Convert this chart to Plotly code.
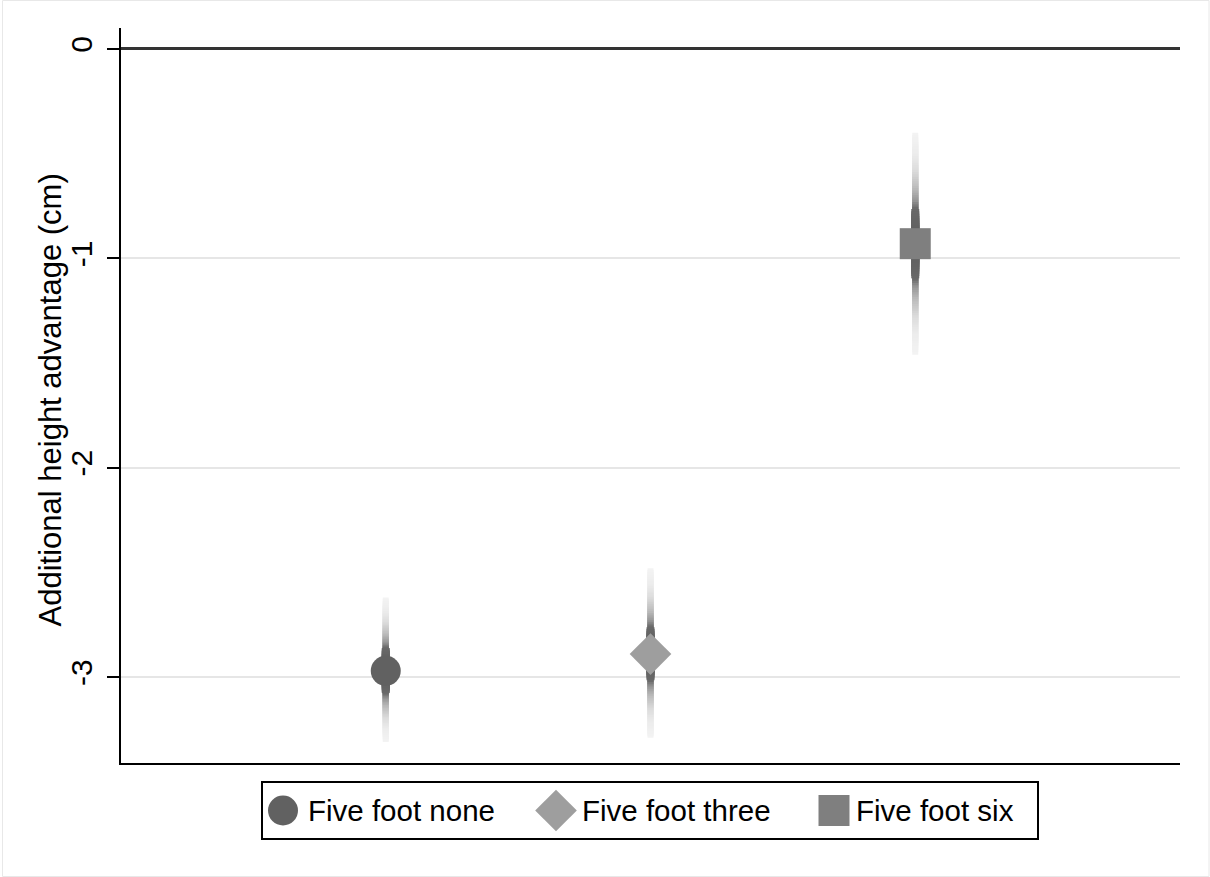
import numpy as np
import plotly.graph_objects as go

# Estimates with outer confidence bounds (cm)
groups = ["Five foot none", "Five foot three", "Five foot six"]
positions = [1, 2, 3]
estimates = [-2.97, -2.89, -0.93]
lower = [-3.31, -3.29, -1.46]
upper = [-2.62, -2.48, -0.40]

symbols = ["circle", "diamond", "square"]
marker_colors = ["#616161", "#9e9e9e", "#7f7f7f"]
marker_sizes = [30, 32, 31]

y_ticks = [0, -1, -2, -3]
y_title = "Additional height advantage (cm)"

W, H = 1210, 877
FONT = "Liberation Sans, Arial, sans-serif"

# plot area in pixels
px_l, px_r, px_t, px_b = 121, 1180, 28, 763
# legend box in pixels
lg_l, lg_r, lg_t, lg_b = 263, 1037, 783, 838

# grey ramp of the smoothed spikes: share of the half-interval -> grey level
ramp_f = [0.0, 0.33, 0.40, 0.51, 0.67, 0.82, 1.0]
ramp_g = [90, 105, 150, 187, 220, 236, 243]

fig = go.Figure()

# Smoothed confidence spikes: nested segments, lighter toward the outer bounds
n_levels = 48
for k in range(n_levels):
    f = 1 - k / n_levels
    shade = int(round(np.interp(f, ramp_f, ramp_g)))
    color = f"rgb({shade},{shade},{shade})"
    width = 6 if f > 0.33 else 8
    xs, ys = [], []
    for x, e, lo, hi in zip(positions, estimates, lower, upper):
        xs += [x, x, None]
        ys += [e - f * (e - lo), e + f * (hi - e), None]
    fig.add_trace(go.Scatter(
        x=xs, y=ys, mode="lines", line=dict(color=color, width=width),
        hoverinfo="skip", showlegend=False, xaxis="x", yaxis="y"))

# Point estimates
for x, e, name, sym, col, sz in zip(positions, estimates, groups, symbols,
                                     marker_colors, marker_sizes):
    fig.add_trace(go.Scatter(
        x=[x], y=[e], mode="markers", name=name,
        marker=dict(symbol=sym, color=col, size=sz, line=dict(width=0)),
        showlegend=False, xaxis="x", yaxis="y"))

# Legend drawn in its own small axes below the plot
leg_marker_x = [283, 556, 834]
leg_text_x = [306, 580, 854]
for mx, tx, name, sym, col, sz in zip(leg_marker_x, leg_text_x, groups, symbols,
                                       marker_colors, marker_sizes):
    fig.add_trace(go.Scatter(
        x=[mx], y=[0.5], mode="markers",
        marker=dict(symbol=sym, color=col, size=sz, line=dict(width=0)),
        showlegend=False, hoverinfo="skip", xaxis="x2", yaxis="y2"))
    fig.add_annotation(
        x=tx, y=0.5, xref="x2", yref="y2", text=name, showarrow=False,
        xanchor="left", yanchor="middle",
        font=dict(family=FONT, size=29.5, color="black"))

# y-axis title
fig.add_annotation(
    x=50.5 / W, y=1 - 400 / H, xref="paper", yref="paper", text=y_title,
    textangle=-90, showarrow=False, xanchor="center", yanchor="middle",
    font=dict(family=FONT, size=31, color="black"))

fig.update_layout(
    width=W, height=H,
    margin=dict(l=0, r=0, t=0, b=0),
    paper_bgcolor="white", plot_bgcolor="white",
    font=dict(family=FONT, size=30, color="black"),
    showlegend=False,
    xaxis=dict(
        domain=[px_l / W, px_r / W], range=[0, 4],
        showgrid=False, zeroline=False, showticklabels=False, ticks="",
        showline=True, linecolor="black", linewidth=2, fixedrange=True),
    yaxis=dict(
        domain=[1 - px_b / H, 1 - px_t / H], range=[-3.41, 0.10],
        tickvals=y_ticks, ticktext=[str(v) for v in y_ticks],
        tickangle=-90, ticks="outside", ticklen=12, tickwidth=1.5,
        tickcolor="black", ticklabelstandoff=3,
        tickfont=dict(family=FONT, size=30, color="black"),
        showgrid=True, gridcolor="#e6e6e6", gridwidth=2,
        zeroline=True, zerolinecolor="#333333", zerolinewidth=2.5,
        showline=True, linecolor="black", linewidth=1.5,
        fixedrange=True),
    xaxis2=dict(
        domain=[lg_l / W, lg_r / W], range=[lg_l, lg_r], anchor="y2",
        showgrid=False, zeroline=False, showticklabels=False, ticks="",
        showline=True, mirror=True, linecolor="black", linewidth=1.5,
        fixedrange=True),
    yaxis2=dict(
        domain=[1 - lg_b / H, 1 - lg_t / H], range=[0, 1], anchor="x2",
        showgrid=False, zeroline=False, showticklabels=False, ticks="",
        showline=True, mirror=True, linecolor="black", linewidth=1.5,
        fixedrange=True),
)

# faint outer frame around the graph region
fig.add_shape(type="rect", xref="paper", yref="paper",
              x0=2.5 / W, x1=1209 / W, y0=0.5 / H, y1=1 - 0.5 / H,
              line=dict(color="#e8e8e8", width=1), layer="below")

fig.write_html("out.html", config={"displayModeBar": False})
